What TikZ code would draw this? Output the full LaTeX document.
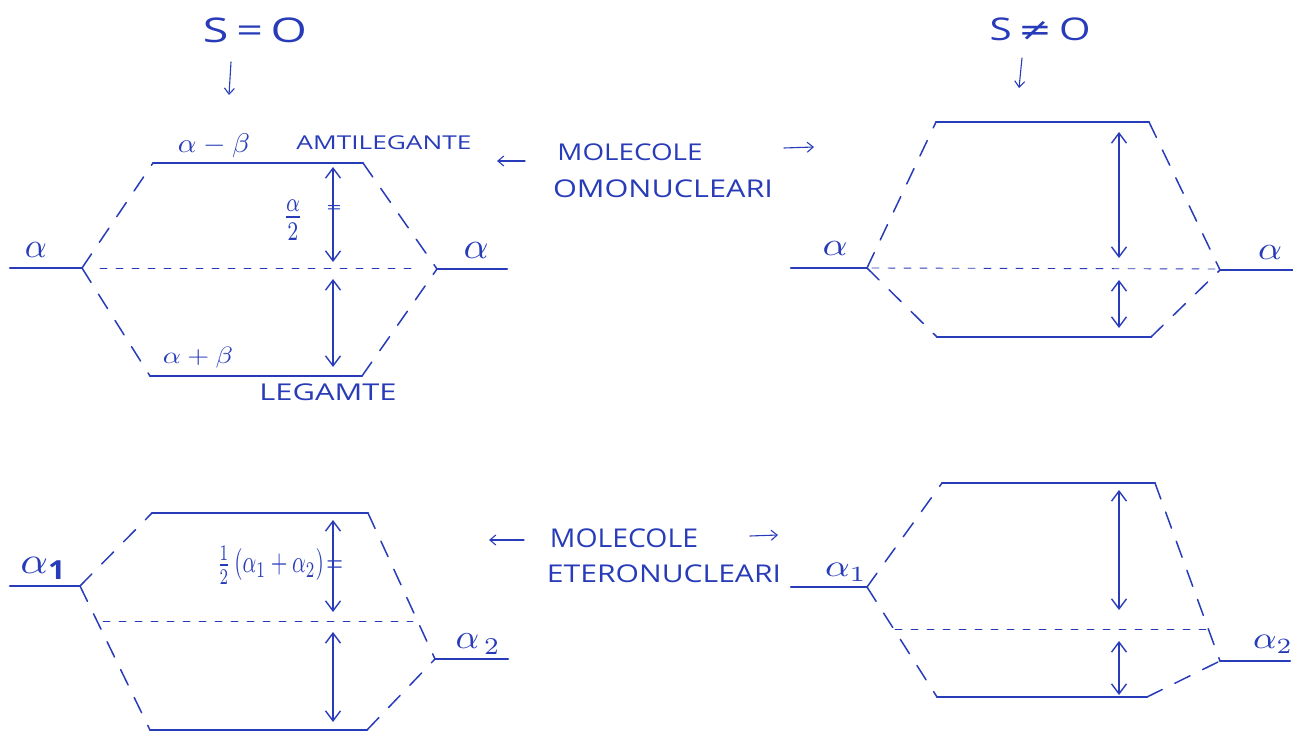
\documentclass[tikz,border=0pt]{standalone}
\usepackage{graphicx}
\usepackage{fontspec}
\setmainfont{Open Sans}
\newfontfamily\djfont{DejaVu Sans}
\usetikzlibrary{arrows.meta}
\definecolor{ink}{RGB}{40,60,185}
\newcommand{\fitbox}[3]{\resizebox*{#1pt}{#2pt}{#3}}
\begin{document}
\begin{tikzpicture}[x=1pt,y=-1pt,ink,line cap=round,
  lvl/.style={line width=2.5pt},
  dsh/.style={line width=1.5pt,dash pattern=on 17pt off 14pt},
  mid/.style={line width=0.9pt,dash pattern=on 7pt off 9pt},
  dbl/.style={line width=1.2pt,{Straight Barb[length=10pt,width=15pt,line width=1.4pt]}-{Straight Barb[length=10pt,width=15pt,line width=1.4pt]}},
  sarr/.style={line width=1.1pt,-{Straight Barb[length=6pt,width=10pt,line width=1.1pt]}},
  lab/.style={inner sep=0pt,text=ink}]
\useasboundingbox (0,0) rectangle (1293,735);

% ---------- headings ----------
\node[lab] (s0) at (255,30) {\fitbox{104}{25}{S\,=\,O}};
\coordinate (s0a) at (231,62); \coordinate (s0b) at (229,95);
\draw[sarr] (s0a) -- (s0b);
\node[lab] (s1) at (1040,29) {\fitbox{101}{23}{S\,{\djfont ≠}\,O}};
\coordinate (s1a) at (1022,58); \coordinate (s1b) at (1019,88);
\draw[sarr] (s1a) -- (s1b);

% ---------- top-left: S = 0, omonucleari ----------
\coordinate (tlLa) at (10,268); \coordinate (tlLb) at (82,268);
\coordinate (tlRa) at (437,269); \coordinate (tlRb) at (507,269);
\coordinate (tlTa) at (153,163); \coordinate (tlTb) at (363,163);
\coordinate (tlBa) at (150,376); \coordinate (tlBb) at (362,376);
\coordinate (tlMa) at (100,268); \coordinate (tlMb) at (420,268);
\coordinate (tlA1) at (333,167); \coordinate (tlA2) at (333,262);
\coordinate (tlA3) at (333,279); \coordinate (tlA4) at (333,367);
\draw[lvl] (tlLa) -- (tlLb);
\draw[lvl] (tlRa) -- (tlRb);
\draw[lvl] (tlTa) -- (tlTb);
\draw[lvl] (tlBa) -- (tlBb);
\draw[dsh] (tlLb) -- (tlTa);
\draw[dsh] (tlTb) -- (tlRa);
\draw[dsh] (tlLb) -- (tlBa);
\draw[dsh] (tlBb) -- (tlRa);
\draw[mid] (tlMa) -- (tlMb);
\draw[dbl] (tlA1) -- (tlA2);
\draw[dbl] (tlA3) -- (tlA4);
\node[lab] (tlal) at (36,250) {\fitbox{22}{15}{$\alpha$}};
\node[lab] (tlar) at (476,250) {\fitbox{25}{16}{$\alpha$}};
\node[lab] (tlamb) at (214,146) {\fitbox{72}{24}{$\alpha-\beta$}};
\node[lab] (tlapb) at (198,358) {\fitbox{70}{21}{$\alpha+\beta$}};
\node[lab] (tlanti) at (384,143) {\fitbox{175}{14}{AMTILEGANTE}};
\node[lab] (tlleg) at (328,392) {\fitbox{137}{17}{LEGAMTE}};
\node[lab] (tlfr) at (293,220) {\fitbox{21}{40}{$\frac{\alpha}{2}$}};
\node[lab] (tleq) at (334,210) {\fitbox{15}{8}{=}};

% ---------- top middle text ----------
\coordinate (ta1) at (525,161); \coordinate (ta2) at (497,161);
\draw[sarr] (ta1) -- (ta2);
\node[lab] (tmol) at (630,152) {\fitbox{145}{17}{MOLECOLE}};
\node[lab] (tomo) at (663,189) {\fitbox{220}{18}{OMONUCLEARI}};
\coordinate (ta3) at (784,148); \coordinate (ta4) at (814,147);
\draw[sarr] (ta3) -- (ta4);

% ---------- top-right: S != 0 ----------
\coordinate (trLa) at (791,268); \coordinate (trLb) at (867,268);
\coordinate (trRa) at (1220,270); \coordinate (trRb) at (1293,270);
\coordinate (trTa) at (936,122); \coordinate (trTb) at (1149,122);
\coordinate (trBa) at (937,337); \coordinate (trBb) at (1151,337);
\coordinate (trMa) at (872,268); \coordinate (trMb) at (1217,269);
\coordinate (trA1) at (1119,132); \coordinate (trA2) at (1119,258);
\coordinate (trA3) at (1119,280); \coordinate (trA4) at (1119,328);
\draw[lvl] (trLa) -- (trLb);
\draw[lvl] (trRa) -- (trRb);
\draw[lvl] (trTa) -- (trTb);
\draw[lvl] (trBa) -- (trBb);
\draw[dsh] (trLb) -- (trTa);
\draw[dsh] (trTb) -- (trRa);
\draw[dsh] (trLb) -- (trBa);
\draw[dsh] (trBb) -- (trRa);
\draw[mid] (trMa) -- (trMb);
\draw[dbl] (trA1) -- (trA2);
\draw[dbl] (trA3) -- (trA4);
\node[lab] (tral) at (835,248) {\fitbox{25}{14}{$\alpha$}};
\node[lab] (trar) at (1270,252) {\fitbox{24}{14}{$\alpha$}};

% ---------- bottom-left: eteronucleari, S = 0 ----------
\coordinate (blLa) at (10,586); \coordinate (blLb) at (80,586);
\coordinate (blRa) at (435,659); \coordinate (blRb) at (508,659);
\coordinate (blTa) at (152,513); \coordinate (blTb) at (368,513);
\coordinate (blBa) at (150,730); \coordinate (blBb) at (367,730);
\coordinate (blMa) at (103,621); \coordinate (blMb) at (413,621);
\coordinate (blA1) at (333,520); \coordinate (blA2) at (333,612);
\coordinate (blA3) at (333,632); \coordinate (blA4) at (333,722);
\draw[lvl] (blLa) -- (blLb);
\draw[lvl] (blRa) -- (blRb);
\draw[lvl] (blTa) -- (blTb);
\draw[lvl] (blBa) -- (blBb);
\draw[dsh] (blLb) -- (blTa);
\draw[dsh] (blTb) -- (blRa);
\draw[dsh] (blLb) -- (blBa);
\draw[dsh] (blBb) -- (blRa);
\draw[mid] (blMa) -- (blMb);
\draw[dbl] (blA1) -- (blA2);
\draw[dbl] (blA3) -- (blA4);
\node[lab] (blal) at (44,568) {\fitbox{47}{22}{$\alpha_{\mathbf{1}}$}};
\node[lab] (blar) at (478,644) {\fitbox{45}{20}{$\alpha_{\,2}$}};
\node[lab] (blfr) at (280,565) {\fitbox{126}{38}{$\frac{1}{2}\,(\alpha_1+\alpha_2)\!=$}};

% ---------- bottom middle text ----------
\coordinate (ba1) at (524,540); \coordinate (ba2) at (489,540);
\draw[sarr] (ba1) -- (ba2);
\node[lab] (bmol) at (624,538) {\fitbox{148}{19}{MOLECOLE}};
\node[lab] (bete) at (664,574) {\fitbox{234}{18}{ETERONUCLEARI}};
\coordinate (ba3) at (750,536); \coordinate (ba4) at (778,535);
\draw[sarr] (ba3) -- (ba4);

% ---------- bottom-right ----------
\coordinate (brLa) at (791,587); \coordinate (brLb) at (867,587);
\coordinate (brRa) at (1220,661); \coordinate (brRb) at (1290,661);
\coordinate (brTa) at (942,483); \coordinate (brTb) at (1155,483);
\coordinate (brBa) at (937,697); \coordinate (brBb) at (1147,697);
\coordinate (brMa) at (895,629); \coordinate (brMb) at (1214,629);
\coordinate (brA1) at (1119,490); \coordinate (brA2) at (1119,610);
\coordinate (brA3) at (1119,641); \coordinate (brA4) at (1119,695);
\draw[lvl] (brLa) -- (brLb);
\draw[lvl] (brRa) -- (brRb);
\draw[lvl] (brTa) -- (brTb);
\draw[lvl] (brBa) -- (brBb);
\draw[dsh] (brLb) -- (brTa);
\draw[dsh] (brTb) -- (brRa);
\draw[dsh] (brLb) -- (brBa);
\draw[dsh] (brBb) -- (brRa);
\draw[mid] (brMa) -- (brMb);
\draw[dbl] (brA1) -- (brA2);
\draw[dbl] (brA3) -- (brA4);
\node[lab] (bral) at (846,572) {\fitbox{42}{18}{$\alpha_1$}};
\node[lab] (brar) at (1273,644) {\fitbox{40}{18}{$\alpha_2$}};
\end{tikzpicture}
\end{document}
